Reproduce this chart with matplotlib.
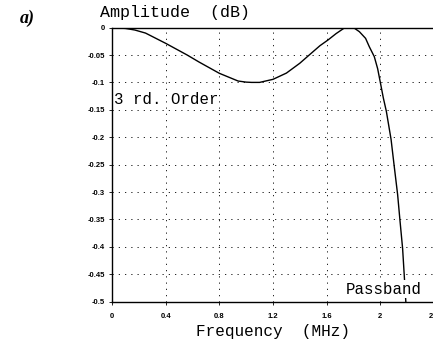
import matplotlib
matplotlib.use("Agg")
import matplotlib.pyplot as plt
from matplotlib.transforms import IdentityTransform

freq = [0, 0.1, 0.17, 0.25, 0.4, 0.56, 0.65, 0.8, 0.94, 1.0, 1.04, 1.1, 1.2, 1.3, 1.4,
        1.47, 1.55, 1.61, 1.67, 1.73, 1.76, 1.80, 1.844, 1.89, 1.918, 1.955, 1.98, 2.0,
        2.022, 2.045, 2.08, 2.104, 2.129, 2.146, 2.166, 2.178, 2.19]
amp = [0, -0.0015, -0.0044, -0.01, -0.0287, -0.05, -0.063, -0.0834, -0.0975, -0.0995, -0.1,
       -0.1, -0.0944, -0.083, -0.065, -0.05, -0.033, -0.0226, -0.011, -0.001, 0, 0,
       -0.0075, -0.0196, -0.035, -0.053, -0.075, -0.1, -0.128, -0.153, -0.204, -0.254,
       -0.305, -0.351, -0.403, -0.451, -0.5]
xticks = [0, 0.4, 0.8, 1.2, 1.6, 2.0, 2.4]
xticklabels = ["0", "0.4", "0.8", "1.2", "1.6", "2", "2.4"]
yticks = [0, -0.05, -0.1, -0.15, -0.2, -0.25, -0.3, -0.35, -0.4, -0.45, -0.5]
yticklabels = ["0", "-0.05", "-0.1", "-0.15", "-0.2", "-0.25", "-0.3", "-0.35", "-0.4", "-0.45", "-0.5"]

W, H = 433, 349
fig = plt.figure(figsize=(W / 100, H / 100), dpi=100)
left, right, top, bottom = 112, 434, 27.6, 301.6
ax = fig.add_axes([left / W, 1 - bottom / H, (right - left) / W, (bottom - top) / H])
ax.plot(freq, amp, color="black", lw=1.0, zorder=3)
ax.set_xlim(0, 2.4)
ax.set_ylim(-0.5, 0)
ax.set_xticks(xticks)
ax.set_xticklabels(xticklabels)
ax.set_yticks(yticks)
ax.set_yticklabels(yticklabels)
for lbl in ax.get_xticklabels() + ax.get_yticklabels():
    lbl.set_fontsize(5.5)
    lbl.set_fontweight("bold")
    lbl.set_family("Liberation Sans")
ax.tick_params(direction="out", length=2, width=0.6, pad=3)
ax.tick_params(axis="x", pad=6)
for s in ax.spines.values():
    s.set_linewidth(1.0)
ax.grid(True, color="black", lw=0.6, linestyle=(0, (1.5, 6)))

mono = "Liberation Mono"
ax.set_xlabel("Frequency  (MHz)", family=mono, fontsize=11.5, labelpad=3)
fig.text(100 / W, 1 - 13 / H, "Amplitude  (dB)", family=mono, fontsize=12, ha="left", va="center")
ax.text(114, H - 100, "3 rd. Order", family=mono, fontsize=11.3, ha="left", va="center",
        transform=IdentityTransform())
ax.text(346, H - 289, "Passband", family=mono, fontsize=11.3, ha="left", va="center",
        zorder=4, transform=IdentityTransform(),
        bbox=dict(facecolor="white", edgecolor="none", pad=1))
fig.text(20 / W, 1 - 18 / H, "a)", family="Liberation Serif", style="italic",
         fontweight="bold", fontsize=13, ha="left", va="center")

fig.savefig("out.png", dpi=100)
